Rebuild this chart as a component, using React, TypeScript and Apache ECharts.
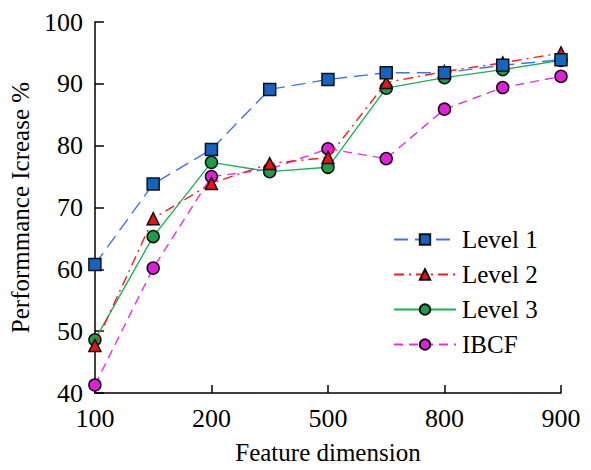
import React, { useEffect, useRef } from "react";
import * as echarts from "echarts";

const categories = ["100", "150", "200", "300", "500", "600", "800", "850", "900"];
const shownLabels = ["100", "200", "500", "800", "900"];
const level1 = [60.8, 73.8, 79.4, 89.1, 90.7, 91.8, 91.8, 93.0, 93.9];
const level2 = [47.7, 68.2, 73.9, 77.1, 78.1, 90.2, 92.0, 93.4, 95.0];
const level3 = [48.6, 65.3, 77.3, 75.8, 76.5, 89.3, 91.0, 92.3, 93.8];
const ibcf = [41.3, 60.2, 75.0, 76.2, 79.5, 77.9, 85.9, 89.4, 91.2];

const FONT = "'Liberation Serif', 'Times New Roman', 'DejaVu Serif', serif";

export default function App() {
  const ref = useRef<HTMLDivElement>(null);
  useEffect(() => {
    document.body.style.margin = "0";
    if (!ref.current) return;
    const chart = echarts.init(ref.current, undefined, { renderer: "svg" });
    const mk = (name: string, data: number[], color: string, fill: string, symbol: string, size: number, type: any, z: number) => ({
      name,
      type: "line",
      data,
      symbol,
      symbolSize: size,
      z,
      lineStyle: { color, width: 1.4, type },
      itemStyle: { color: fill, borderColor: "#111", borderWidth: 1.5 },
    });
    chart.setOption({
      animation: false,
      textStyle: { fontFamily: FONT },
      grid: { left: 91, right: 30, top: 22, bottom: 73 },
      legend: {
        orient: "vertical",
        left: 388,
        top: 222,
        itemWidth: 62,
        itemHeight: 13,
        itemGap: 10,
        textStyle: { fontFamily: FONT, fontSize: 25, color: "#000", padding: [0, 0, 0, 1] },
        data: ["Level 1", "Level 2", "Level 3", "IBCF"],
      },
      xAxis: {
        type: "category",
        data: categories,
        boundaryGap: false,
        name: "Feature dimension",
        nameLocation: "middle",
        nameGap: 47,
        nameTextStyle: { fontFamily: FONT, fontSize: 25, color: "#000" },
        axisLine: { lineStyle: { color: "#000", width: 1.5 } },
        axisTick: { inside: true, interval: 1, length: 8, lineStyle: { color: "#000", width: 1.5 } },
        axisLabel: {
          interval: 1,
          margin: 12,
          fontFamily: FONT,
          fontSize: 26,
          color: "#000",
          formatter: (v: string, i: number) => (i % 2 === 0 ? shownLabels[i / 2] : ""),
        },
        splitLine: { show: false },
      },
      yAxis: {
        type: "value",
        min: 40,
        max: 100,
        interval: 10,
        name: "Performmance Icrease %",
        nameLocation: "middle",
        nameGap: 56,
        nameTextStyle: { fontFamily: FONT, fontSize: 25, color: "#000" },
        axisLine: { show: true, lineStyle: { color: "#000", width: 1.5 } },
        axisTick: { show: true, inside: true, length: 9, lineStyle: { color: "#000", width: 1.5 } },
        axisLabel: { margin: 12, fontFamily: FONT, fontSize: 26, color: "#000" },
        splitLine: { show: false },
      },
      series: [
        mk("IBCF", ibcf, "#e52ee5", "#e020d8", "circle", 12, [9, 6], 2),
        mk("Level 3", level3, "#1db158", "#1a9e48", "circle", 12, "solid", 3),
        mk("Level 2", level2, "#ff1a1a", "#ee1111", "triangle", 12, [10, 5, 2, 5], 4),
        mk("Level 1", level1, "#3d72f0", "#1565c0", "rect", 12, [14, 7], 5),
      ],
    });
    return () => chart.dispose();
  }, []);
  return <div ref={ref} style={{ width: 591, height: 470 }} />;
}
